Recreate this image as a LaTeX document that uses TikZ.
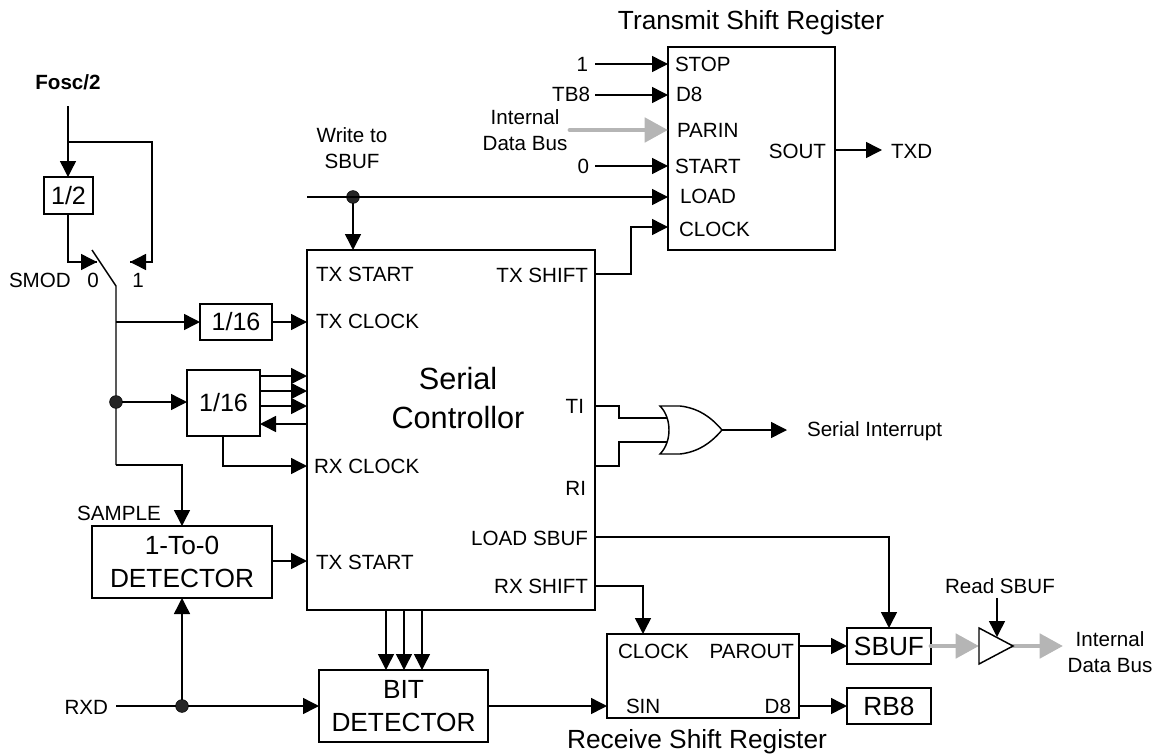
\documentclass[tikz,border=0pt]{standalone}
\usepackage{fontspec}
\setmainfont{Liberation Sans}
\usetikzlibrary{arrows.meta}
\newcommand{\fsm}{\fontsize{15.45pt}{19.5pt}\selectfont}
\newcommand{\fmd}{\fontsize{18.8pt}{24.75pt}\selectfont}
\newcommand{\flg}{\fontsize{19.7pt}{24.75pt}\selectfont}
\newcommand{\blockbox}[6]{\node[regbox,minimum width={(#4-#2)*0.75pt},minimum height={(#5-#3)*0.75pt}] (#1) at ({(#2+#4)/2},{(#3+#5)/2}) {#6};}
\newcommand{\lab}[5]{\node[labeltext,anchor=#1] (#2) at (#3,#4) {#5};}
\tikzset{
  regbox/.style={draw,line width=1.1pt,inner sep=0pt,outer sep=0pt,align=center,font=\fmd},
  bigbox/.style={font=\flg},
  labeltext/.style={inner sep=0pt,outer sep=0pt,font=\fsm,align=center},
  wire/.style={line width=1.1pt},
  arrowwire/.style={line width=1.1pt,-{Triangle[length=12pt,width=12pt]}},
  buswire/.style={line width=3.7pt,line cap=round,draw=busgray,-{Triangle[length=17.5pt,width=18pt]}},
  dotnode/.style={circle,fill=black!85,draw=black,line width=0.4pt,inner sep=0pt,minimum size=9.6pt,outer sep=0pt},
}
\definecolor{busgray}{HTML}{B5B5B5}
\begin{document}
\begin{tikzpicture}[x=0.75pt,y=-0.75pt]
\useasboundingbox (0,0) rectangle (1156,753);
% blocks
\blockbox{serial}{307}{250}{595}{610}{}
\blockbox{tsr}{668}{47}{835}{250}{}
\blockbox{rsr}{607}{634}{799}{718}{}
\blockbox{divtwo}{44}{177}{93}{214}{1/2}
\blockbox{divtx}{200}{304}{272}{340}{1/16}
\blockbox{divrx}{187}{370}{260}{436}{1/16}
\node[regbox,bigbox,minimum width=135pt,minimum height=54pt] (detect) at (182,562) {1-To-0\\DETECTOR};
\node[regbox,bigbox,minimum width=126.75pt,minimum height=54pt] (bitdet) at (403.5,706) {BIT\\DETECTOR};
\blockbox{sbuf}{847}{628}{931}{664}{\flg SBUF}
\blockbox{rbe}{847}{688}{931}{724}{\flg RB8}
% labels
\lab{base}{fosc}{68}{89}{\bfseries Fosc/2}
\lab{base west}{smod}{9}{287}{SMOD}
\lab{base}{szero}{93}{287}{0}
\lab{base}{sone}{138}{287}{1}
\lab{center}{write}{352}{148}{Write to\\SBUF}
\lab{base}{ttitle}{751}{29}{\flg Transmit Shift Register}
\lab{base}{rtitle}{697}{748}{\flg Receive Shift Register}
\lab{base west}{tstop}{675}{71}{STOP}
\lab{base west}{tdeight}{676}{101}{D8}
\lab{base west}{tparin}{677}{137}{PARIN}
\lab{base west}{tstart}{675}{173}{START}
\lab{base west}{tload}{680}{203}{LOAD}
\lab{base west}{tclock}{679}{236}{CLOCK}
\lab{base east}{tsout}{826}{158}{SOUT}
\lab{base west}{txd}{891}{158}{TXD}
\lab{base east}{one}{588}{71}{1}
\lab{base east}{tbe}{590}{101}{TB8}
\lab{base east}{zero}{589}{173}{0}
\lab{center}{busin}{525}{130}{Internal\\Data Bus}
\lab{base west}{ctxstart}{316}{281}{TX START}
\lab{base east}{ctxshift}{588}{282}{TX SHIFT}
\lab{base west}{ctxclock}{316}{328}{TX CLOCK}
\lab{base west}{crxclock}{314}{473}{RX CLOCK}
\lab{base west}{ctxstartb}{316}{569}{TX START}
\lab{base east}{cti}{584}{413}{TI}
\lab{base east}{cri}{586}{495}{RI}
\lab{base east}{cloadsbuf}{588}{545}{LOAD SBUF}
\lab{base east}{crxshift}{588}{593}{RX SHIFT}
\lab{base}{sername}{458}{389}{\fontsize{23pt}{29pt}\selectfont Serial}
\lab{base}{conname}{458}{428}{\fontsize{23pt}{29pt}\selectfont Controllor}
\lab{base west}{irq}{807}{436}{Serial Interrupt}
\lab{base}{sample}{119}{520}{SAMPLE}
\lab{base east}{rxd}{108}{714}{RXD}
\lab{base west}{rclock}{618}{658}{CLOCK}
\lab{base east}{rparout}{794}{658}{PAROUT}
\lab{base west}{rsin}{626}{713}{SIN}
\lab{base east}{rdeight}{791}{713}{D8}
\lab{base}{readsbuf}{1000}{593}{Read SBUF}
\lab{center}{busout}{1110}{652}{Internal\\Data Bus}
% free ends and pins
\coordinate (foscend) at (68,106);
\coordinate (fork) at (68,142);
\coordinate (swzero) at (97,262);
\coordinate (swone) at (130,262);
\coordinate (swtop) at (92,250);
\coordinate (swbot) at (116,286);
\coordinate (rxdend) at (116,706);
\coordinate (wstart) at (307,197);
\coordinate (orout) at (722,430);
\coordinate (orin) at (667,418);
\coordinate (orinb) at (667,442);
\coordinate (ortop) at (660,406);
\coordinate (orbot) at (660,454);
\coordinate (bufin) at (979,646);
\coordinate (bufout) at (1013,646);
\coordinate (bufctl) at (997,637);
\coordinate (readend) at (997,598);
\coordinate (bustip) at (1063,646);
\coordinate (intrtip) at (787,430);
\coordinate (txdtip) at (882,150);
\coordinate (sbuftop) at (889,628);
\node[dotnode] (dotsw) at (116,402) {};
\node[dotnode] (dotw) at (353,197) {};
\node[dotnode] (dotrxd) at (182,706) {};
% clock selection
\draw[arrowwire] (foscend) -- (divtwo.north -| foscend);
\draw[wire] (fork) -- (152,142) -- (152,262) -- (swone);
\draw[arrowwire] (152,262) -- (swone);
\draw[wire] (divtwo.south -| foscend) -- (68,262) -- (swzero);
\draw[arrowwire] (68,262) -- (swzero);
\draw[wire] (swtop) -- (swbot) -- (dotsw) -- (116,465);
\draw[arrowwire] (116,465) -- (182,465) -- (detect.north -| 182,0);
\draw[arrowwire] (116,322) -- (divtx.west);
\draw[arrowwire] (divtx.east) -- (serial.west |- divtx.east);
\draw[arrowwire] (dotsw) -- (divrx.west |- dotsw);
\foreach \yy in {376,391,406}{
  \draw[arrowwire] (divrx.east |- 0,\yy) -- (serial.west |- 0,\yy);
}
\draw[arrowwire] (serial.west |- 0,424) -- (divrx.east |- 0,424);
\draw[arrowwire] (divrx.south -| 223,0) -- (223,466) -- (serial.west |- 0,466);
\draw[arrowwire] (detect.east |- 0,561) -- (serial.west |- 0,561);
% RXD
\draw[wire] (rxdend) -- (dotrxd);
\draw[arrowwire] (dotrxd) -- (bitdet.west |- dotrxd);
\draw[arrowwire] (dotrxd) -- (detect.south -| dotrxd);
\foreach \xx in {386,404,422}{
  \draw[arrowwire] (serial.south -| \xx,0) -- (bitdet.north -| \xx,0);
}
\draw[arrowwire] (bitdet.east |- 0,706) -- (rsr.west |- 0,706);
% transmit
\draw[arrowwire] (595,64) -- (tsr.west |- 0,64);
\draw[arrowwire] (595,95) -- (tsr.west |- 0,95);
\draw[arrowwire] (595,166) -- (tsr.west |- 0,166);
\draw[arrowwire] (wstart) -- (tsr.west |- wstart);
\draw[arrowwire] (dotw) -- (serial.north -| dotw);
\draw[arrowwire] (serial.east |- 0,274) -- (631,274) -- (631,227) -- (tsr.west |- 0,227);
\draw[arrowwire] (tsr.east |- txdtip) -- (txdtip);
\draw[buswire] (570,130) -- (tsr.west |- 0,130);
% OR gate
\draw[wire,fill=white] (ortop) -- (680,406) .. controls (698,408) and (711,417) .. (orout) .. controls (711,443) and (698,452) .. (680,454) -- (orbot) .. controls (672,442) and (672,418) .. cycle;
\draw[wire] (serial.east |- 0,406) -- (619,406) -- (619,418) -- (orin);
\draw[wire] (serial.east |- 0,466) -- (619,466) -- (619,442) -- (orinb);
\draw[arrowwire] (orout) -- (intrtip);
% receive
\draw[arrowwire] (serial.east |- 0,586) -- (643,586) -- (rsr.north -| 643,0);
\draw[arrowwire] (serial.east |- 0,537) -- (889,537) -- (sbuftop);
\draw[arrowwire] (rsr.east |- 0,646) -- (sbuf.west);
\draw[arrowwire] (rsr.east |- 0,706) -- (rbe.west);
% buffer
\draw[buswire] (sbuf.east) -- (bufin);
\draw[buswire] (bufout) -- (bustip);
\draw[wire,fill=white] (979,628) -- (1013,646) -- (979,664) -- cycle;
\draw[arrowwire] (readend) -- (bufctl);
\end{tikzpicture}
\end{document}
